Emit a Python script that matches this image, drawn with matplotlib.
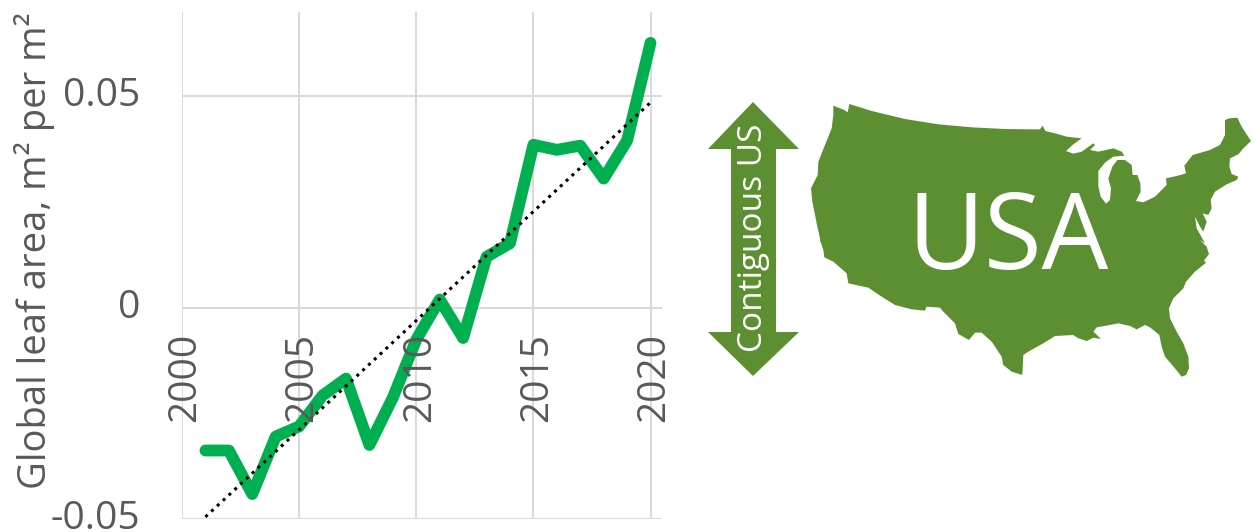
""" Global leaf area trend next to a map of the contiguous US """
import matplotlib
matplotlib.use('Agg')
import matplotlib.pyplot as plt
from matplotlib.patches import Polygon
from matplotlib.transforms import ScaledTranslation

W, H = 1254, 532

years = list(range(2001, 2021))
leaf_area = [-0.0338, -0.0338, -0.0441, -0.0305, -0.0281, -0.0208, -0.0168,
             -0.0325, -0.0213, -0.0076, 0.0019, -0.0072, 0.0120, 0.0152,
             0.0385, 0.0373, 0.0383, 0.0305, 0.0395, 0.0626]
trend_years = [2001, 2020]
trend_values = [-0.0495, 0.0485]
x_ticks = [2000, 2005, 2010, 2015, 2020]
y_ticks = [-0.05, 0, 0.05]
y_tick_labels = ['-0.05', '0', '0.05']
y_title = 'Global leaf area, m² per m²'
arrow_label = 'Contiguous US'
map_label = 'USA'

map_nw = [
    (85, 32), (118, 45), (128, 52), (133, 27), (200, 48), (300, 72), (400, 88),
    (500, 97), (600, 102), (675, 103)]
map_ne = [
    (30, 103), (38, 92), (46, 108), (75, 115), (110, 125), (155, 130),
    (130, 148), (108, 168), (130, 176), (155, 170), (190, 145), (195, 150),
    (180, 165), (205, 170), (250, 160), (275, 170), (283, 182), (250, 185),
    (225, 203), (205, 228), (205, 275), (212, 305), (228, 326), (240, 315),
    (243, 280), (235, 250), (247, 215), (262, 195), (285, 195), (305, 210),
    (308, 240), (322, 240), (331, 265), (332, 290), (318, 318), (340, 322),
    (375, 305), (410, 270), (408, 250), (440, 243), (468, 235), (463, 212),
    (488, 180), (540, 165), (570, 150), (585, 120), (585, 75), (598, 70),
    (622, 68), (635, 95), (663, 138), (640, 160), (625, 178), (600, 190),
    (598, 215), (605, 237), (625, 245), (620, 255), (590, 268), (555, 290),
    (542, 315), (545, 340), (535, 360), (518, 355), (530, 380), (520, 410),
    (510, 395), (495, 365), (500, 400), (525, 445)]
map_se = [
    (510, 0), (530, 20), (537, 42), (522, 62), (528, 68), (495, 95),
    (468, 125), (460, 145), (430, 175), (417, 205), (420, 235), (440, 275),
    (460, 310), (475, 350), (477, 385), (468, 405), (455, 410), (435, 385),
    (405, 350), (395, 320), (388, 285), (360, 262), (345, 255), (320, 268),
    (300, 258), (265, 250), (240, 255), (200, 262), (190, 275), (213, 297),
    (190, 293), (170, 303), (145, 295), (130, 285), (75, 288), (40, 310),
    (0, 332)]
map_sw = [
    (675, 332), (655, 345), (652, 405), (620, 395), (595, 375), (590, 350),
    (560, 305), (530, 278), (510, 278), (492, 300), (460, 282), (450, 250),
    (415, 215), (405, 203), (365, 200), (360, 212), (320, 208), (270, 195),
    (230, 170), (190, 143), (130, 130), (125, 100), (85, 65), (58, 52),
    (55, 30), (45, 0)]
map_w = [
    (45, 430), (35, 385), (22, 320), (18, 280), (38, 240), (40, 200),
    (60, 150), (80, 100), (85, 60)]
arrow_outline = [
    (753, 102), (799, 149), (776, 149), (776, 332), (799, 332), (753, 376),
    (708, 332), (731, 332), (731, 149), (708, 149)]

GREY = '#595959'
GRID = '#d9d9d9'
MAP_GREEN = '#5b8f31'
LINE_GREEN = '#00b050'
plt.rcParams['font.family'] = ['Open Sans', 'DejaVu Sans']


def crop_to_px(points, left, top):
    """Crop coordinates to figure pixels"""
    return [(left + x / 3, top + y / 3) for x, y in points]


fig = plt.figure(figsize=(W / 100, H / 100), dpi=100)

# chart, placed so that 2000-2020 and -0.05-0.05 land on the right pixels
ax = fig.add_axes([182 / W, 1 - 519 / H, (662 - 182) / W, (519 - 12) / H])
ax.set_xlim(2000, 2020.49)
ax.set_ylim(-0.05, 0.0699)
ax.set_xticks(x_ticks)
ax.set_yticks(y_ticks)
ax.set_yticklabels(y_tick_labels)
ax.grid(True, color=GRID, linewidth=1.4)
ax.set_axisbelow(True)
ax.tick_params(length=0)
ax.tick_params(axis='y', labelsize=28, labelcolor=GREY, pad=30)
ax.tick_params(axis='x', labelbottom=False)
shift_up = ScaledTranslation(0, 3 / 72, fig.dpi_scale_trans)
for label in ax.get_yticklabels():
    label.set_transform(label.get_transform() + shift_up)
for side in ['top', 'right', 'left', 'bottom']:
    ax.spines[side].set_visible(False)
ax.plot(years, leaf_area, color=LINE_GREEN, linewidth=8.5, zorder=3,
        solid_capstyle='round', solid_joinstyle='round')
ax.plot(trend_years, trend_values, color='black', linewidth=2.2, zorder=4,
        linestyle=(0, (1, 1.6)))
for year in x_ticks:
    ax.annotate(str(year), (year, 0), xytext=(2.5, -18), textcoords='offset points',
                rotation=90, ha='center', va='top', fontsize=28, color=GREY,
                zorder=5)
fig.text(35 / W, 1 - 251 / H, y_title, rotation=90, ha='center', va='center',
         fontsize=27.5, color=GREY)

# map and arrow drawn in figure pixels
over = fig.add_axes([0, 0, 1, 1])
over.set_xlim(0, W)
over.set_ylim(H, 0)
over.axis('off')
over.patch.set_alpha(0)
outline = (crop_to_px(map_nw, 805, 95) + crop_to_px(map_ne, 1030, 95)
           + crop_to_px(map_se, 1030, 240) + crop_to_px(map_sw, 805, 240)
           + crop_to_px(map_w, 805, 95))
over.add_patch(Polygon(outline, closed=True, color=MAP_GREEN, lw=0))
over.add_patch(Polygon(arrow_outline, closed=True, color=MAP_GREEN, lw=0))
over.text(754, 238, arrow_label, rotation=90, ha='center', va='center',
          fontsize=24, color='white')
over.text(1008, 241, map_label, ha='center', va='center', fontsize=76,
          color='white')

fig.savefig('out.png', dpi=100)
